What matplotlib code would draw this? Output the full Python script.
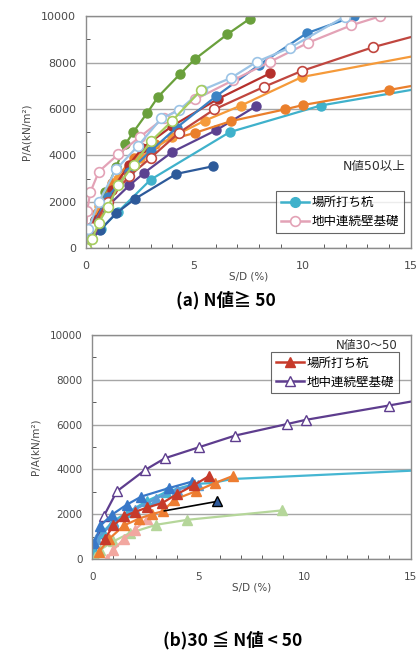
import matplotlib

matplotlib.use("Agg")
import matplotlib.pyplot as plt
from matplotlib.lines import Line2D
from matplotlib.ticker import MultipleLocator

plt.rcParams["font.family"] = ["DejaVu Sans", "Noto Sans CJK JP"]

# ---- (a) N >= 50, circle markers ----
green_x = [0, 0.4, 0.9, 1.4, 1.82, 2.19, 2.84, 3.34, 4.33, 5.02, 6.53, 7.58]
green_y = [0, 1200, 2400, 3500, 4470, 5000, 5840, 6530, 7490, 8140, 9220, 9900]
teal_x = [0, 0.3, 0.71, 1.47, 2.99, 6.64, 10.85, 15.2]
teal_y = [0, 400, 835, 1550, 2950, 5000, 6150, 6850]
navy_x = [0, 0.15, 0.67, 1.4, 2.28, 4.18, 5.88]
navy_y = [0, 360, 790, 1500, 2130, 3200, 3530]
purple_x = [0, 0.3, 1.0, 2.0, 2.7, 3.98, 6.03, 7.86]
purple_y = [0, 700, 1800, 2700, 3250, 4140, 5090, 6120]
orange1_x = [0, 0.5, 1.2, 2.2, 3.2, 5.04, 6.72, 9.18, 10.03, 14.0, 15.2]
orange1_y = [0, 1500, 2800, 3900, 4500, 4970, 5480, 5980, 6170, 6820, 7020]
orange2_x = [0, 0.6, 1.5, 2.5, 4.0, 5.5, 7.17, 9.98, 15.2]
orange2_y = [0, 1800, 3000, 3900, 4800, 5500, 6150, 7380, 8290]
red1_x = [0, 0.4, 1.2, 2.0, 2.61, 3.98, 6.11, 8.51]
red1_y = [0, 1200, 2500, 3600, 4320, 5260, 6440, 7540]
red2_x = [0, 0.3, 1.0, 2.0, 3.0, 4.29, 5.93, 8.24, 9.97, 13.28, 15.2]
red2_y = [0, 900, 2000, 3100, 3900, 4970, 5980, 6960, 7640, 8670, 9150]
pink_x = [0, 0.06, 0.2, 0.6, 1.5, 2.5, 3.6, 5.05, 6.78, 8.51, 10.27, 12.26, 13.6]
pink_y = [0, 1600, 2400, 3300, 4050, 4800, 5600, 6410, 7230, 8040, 8860, 9610, 10000]
lblue_x = [0, 0.1, 0.6, 1.4, 2.4, 3.48, 4.29, 5.38, 6.72, 7.9, 9.45, 11.96]
lblue_y = [0, 800, 2000, 3400, 4400, 5590, 5940, 6820, 7350, 8040, 8650, 9990]
steel_x = [0, 0.3, 1.0, 2.0, 3.0, 4.2, 6.03, 8.0, 10.2, 12.4]
steel_y = [0, 900, 2200, 3300, 4200, 5200, 6560, 7900, 9270, 10000]
lgreen_x = [0, 0.3, 0.6, 1.0, 1.5, 2.2, 3.0, 4.0, 5.3]
lgreen_y = [0, 400, 1100, 1750, 2700, 3600, 4600, 5500, 6800]

# ---- (b) 30 <= N < 50, triangle markers ----
b_purple_x = [0.08, 0.31, 0.54, 1.16, 2.5, 3.43, 5.03, 6.73, 9.2, 10.05, 13.96, 15.2]
b_purple_y = [0, 940, 1900, 3020, 3980, 4500, 4990, 5510, 6030, 6210, 6850, 7060]
b_cyan_x = [0.1, 0.5, 1.0, 1.7, 2.6, 3.5, 4.8, 5.64, 6.57, 15.2]
b_cyan_y = [300, 1200, 1700, 2100, 2600, 3000, 3350, 3390, 3570, 3950]
b_blue_x = [0.1, 0.39, 0.93, 1.62, 2.32, 3.63, 4.72]
b_blue_y = [700, 1490, 1980, 2420, 2790, 3170, 3460]
b_steel_x = [0.2, 1.0, 2.0, 3.0, 4.0, 5.0]
b_steel_y = [900, 1600, 2200, 2700, 3100, 3300]
b_red_x = [0.6, 1.0, 1.5, 2.0, 2.6, 3.3, 4.0, 4.8, 5.52]
b_red_y = [900, 1500, 1900, 2100, 2300, 2500, 2900, 3300, 3715]
b_orange_x = [0.3, 0.8, 1.5, 2.2, 2.8, 3.32, 3.87, 4.87, 5.8, 6.65]
b_orange_y = [300, 900, 1500, 1800, 2000, 2130, 2650, 3020, 3400, 3715]
b_black_x = [3.4, 5.88]
b_black_y = [2150, 2570]
b_lgreen_x = [0.15, 0.39, 1.0, 1.78, 3.02, 4.48, 8.94]
b_lgreen_y = [90, 420, 790, 1160, 1530, 1750, 2170]
b_salmon_x = [0.7, 1.0, 1.5, 2.0, 2.6]
b_salmon_y = [0, 400, 900, 1300, 1800]

TICK_COLOR = "#4a4a4a"
GRID_COLOR = "#a6a6a6"


def style_axes(ax, labelsize):
    ax.set_xlim(0, 15)
    ax.set_ylim(0, 10000)
    ax.xaxis.set_major_locator(MultipleLocator(5))
    ax.xaxis.set_minor_locator(MultipleLocator(1))
    ax.yaxis.set_major_locator(MultipleLocator(2000))
    ax.yaxis.set_minor_locator(MultipleLocator(1000))
    ax.tick_params(which="major", length=0, labelsize=labelsize, labelcolor=TICK_COLOR)
    ax.tick_params(axis="x", which="major", pad=9)
    ax.tick_params(axis="y", which="major", pad=7)
    ax.tick_params(which="minor", direction="in", length=3, color="#404040")
    ax.grid(True, axis="y", which="major", color=GRID_COLOR, linewidth=1.0)
    ax.set_axisbelow(True)
    for sp in ax.spines.values():
        sp.set_color("#8c8c8c")
        sp.set_linewidth(1.0)
    ax.set_xlabel("S/D (%)", fontsize=7.5, color=TICK_COLOR, labelpad=1)
    ax.set_ylabel("P/A(kN/m²)", fontsize=7.5, color=TICK_COLOR, labelpad=7)


fig = plt.figure(figsize=(4.19, 6.51), dpi=100)
ax1 = fig.add_axes([0.205, 0.619, 0.775, 0.356])
ax2 = fig.add_axes([0.22, 0.1413, 0.76, 0.3441])

# panel (a)
filled = [
    (green_x, green_y, "#6aa03c"),
    (teal_x, teal_y, "#3fb1cb"),
    (navy_x, navy_y, "#2d5a9a"),
    (purple_x, purple_y, "#5b4190"),
    (orange1_x, orange1_y, "#ea7f2c"),
    (orange2_x, orange2_y, "#f59a3a"),
    (red1_x, red1_y, "#b5302c"),
    (steel_x, steel_y, "#3b82c4"),
]
for xs, ys, c in filled:
    ax1.plot(xs, ys, color=c, lw=1.6, marker="o", ms=6.5, mfc=c, mec=c,
             markevery=list(range(1, len(xs) - (1 if xs[-1] > 15 else 0))))
hollow = [
    (red2_x, red2_y, "#c0463f"),
    (pink_x, pink_y, "#e3a2b6"),
    (lblue_x, lblue_y, "#9cc4e6"),
    (lgreen_x, lgreen_y, "#a6cc5e"),
]
for xs, ys, c in hollow:
    ax1.plot(xs, ys, color=c, lw=1.6, marker="o", ms=7, mfc="white", mec=c,
             mew=1.2, markevery=list(range(len(xs) - (1 if xs[-1] > 15 else 0))))
style_axes(ax1, 8)

h1 = [Line2D([], [], color="#3fb1cb", lw=1.8, marker="o", ms=7, mfc="#3fb1cb"),
      Line2D([], [], color="#e3a2b6", lw=1.8, marker="o", ms=7, mfc="white", mew=1.2)]
leg1 = ax1.legend(h1, ["場所打ち杭", "地中連続壁基礎"], loc="lower right",
                  bbox_to_anchor=(0.98, 0.065), fontsize=9, frameon=True, fancybox=False,
                  edgecolor="#404040", handlelength=2.2, handletextpad=0.25,
                  borderpad=0.4, labelspacing=0.45, borderaxespad=0)
leg1.get_frame().set_linewidth(0.8)
ax1.text(0.985, 0.325, "N値50以上", transform=ax1.transAxes, ha="right", va="bottom",
         fontsize=9, color="#303030")

# panel (b)
b_series = [
    (b_purple_x, b_purple_y, "#5e3d8e", "white", 11),
    (b_cyan_x, b_cyan_y, "#45b6d2", "#45b6d2", 7),
    (b_lgreen_x, b_lgreen_y, "#b5d69a", "#b5d69a", 7),
    (b_salmon_x, b_salmon_y, "#f2a7a0", "#f2a7a0", 5),
    (b_steel_x, b_steel_y, "#5b9bd5", "#5b9bd5", 6),
    (b_blue_x, b_blue_y, "#3878c8", "#3878c8", 7),
    (b_orange_x, b_orange_y, "#ed7d31", "#ed7d31", 10),
    (b_red_x, b_red_y, "#c73a2a", "#c73a2a", 9),
]
for xs, ys, c, fc, n in b_series:
    ax2.plot(xs, ys, color=c, lw=1.6, marker="^", ms=7, mfc=fc, mec=c,
             mew=1.0, markevery=list(range(n)))
ax2.plot(b_black_x, b_black_y, color="black", lw=1.2, marker="^", ms=7.5,
         mfc="#2e5a9c", mec="black", markevery=[1])
style_axes(ax2, 7.5)

h2 = [Line2D([], [], color="#c73a2a", lw=1.8, marker="^", ms=7, mfc="#c73a2a"),
      Line2D([], [], color="#5e3d8e", lw=1.8, marker="^", ms=7, mfc="white")]
leg2 = ax2.legend(h2, ["場所打ち杭", "地中連続壁基礎"], loc="upper right",
                  bbox_to_anchor=(0.965, 0.925), fontsize=9, frameon=True, fancybox=False,
                  edgecolor="#404040", handlelength=2.2, handletextpad=0.25,
                  borderpad=0.4, labelspacing=0.45, borderaxespad=0)
leg2.get_frame().set_linewidth(0.8)
ax2.text(0.96, 0.925, "N値30～50", transform=ax2.transAxes, ha="right", va="bottom",
         fontsize=8.5, color="#303030")

fig.text(0.54, 0.539, "(a) N値≧ 50", ha="center", va="center", fontsize=12.5,
         fontweight="bold", family=["Noto Sans CJK JP"])
fig.text(0.555, 0.017, "(b)30 ≦ N値 < 50", ha="center", va="center", fontsize=12.5,
         fontweight="bold", family=["Noto Sans CJK JP"])

fig.savefig("out.png", dpi=100)
